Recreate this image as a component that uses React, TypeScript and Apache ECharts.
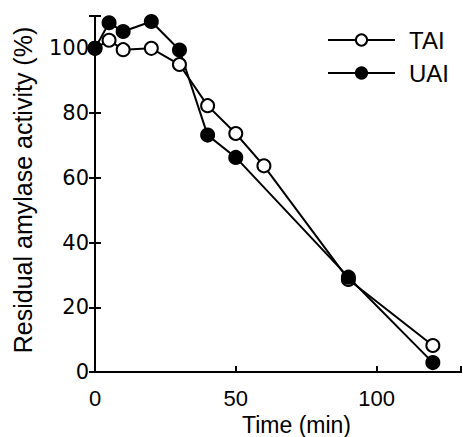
import React, { useEffect, useRef } from "react";
import * as echarts from "echarts";

const taiTime = [0, 5, 10, 20, 30, 40, 50, 60, 90, 120];
const taiValues = [100, 102.5, 99.6, 100, 95, 82.3, 73.7, 63.7, 28.6, 8.2];
const uaiTime = [0, 5, 10, 20, 30, 40, 50, 90, 120];
const uaiValues = [100, 107.9, 105.2, 108.3, 99.5, 73.2, 66.3, 29.3, 2.9];
const xTicks = [0, 50, 100];
const yTicks = [0, 20, 40, 60, 80, 100];

const FONT = "Liberation Sans, Arial, sans-serif";

export default function App() {
  const ref = useRef<HTMLDivElement>(null);
  useEffect(() => {
    if (!ref.current) return;
    const chart = echarts.init(ref.current, null, { renderer: "svg" });
    const axisLine = { show: true, lineStyle: { color: "#000", width: 2 } };
    chart.setOption({
      animation: false,
      backgroundColor: "#fff",
      grid: { left: 95, top: 16, right: 2, bottom: 65, containLabel: false, outerBoundsMode: "none" },
      legend: {
        orient: "vertical",
        left: 322,
        top: 23,
        itemWidth: 67,
        itemHeight: 14,
        itemGap: 9,
        textStyle: { fontFamily: FONT, fontSize: 24, color: "#000", lineHeight: 24, padding: [0, 0, 0, 9] },
        data: ["TAI", "UAI"],
      },
      xAxis: [
        {
          type: "value",
          min: 0,
          max: 130,
          interval: 50,
          position: "bottom",
          axisLine,
          axisTick: { show: true, inside: true, length: 6, lineStyle: { color: "#000", width: 2 } },
          splitLine: { show: false },
          axisLabel: {
            margin: 15,
            fontFamily: FONT,
            fontSize: 22,
            color: "#000",
            formatter: (v: number) => (xTicks.includes(v) ? String(v) : ""),
          },
          name: "Time (min)",
          nameLocation: "middle",
          nameGap: 37,
          nameTextStyle: { fontFamily: FONT, fontSize: 23, lineHeight: 23, color: "#000", padding: [0, 0, 0, 37] },
        },
        {
          type: "value",
          min: 0,
          max: 130,
          interval: 50,
          position: "top",
          axisLine,
          axisTick: { show: false },
          axisLabel: { show: false },
          splitLine: { show: false },
        },
      ],
      yAxis: [
        {
          type: "value",
          min: 0,
          max: 110,
          interval: 20,
          position: "left",
          axisLine,
          axisTick: { show: true, inside: true, length: 6, lineStyle: { color: "#000", width: 2 } },
          splitLine: { show: false },
          axisLabel: {
            margin: 6,
            fontFamily: "DejaVu Sans, sans-serif",
            fontSize: 21,
            color: "#000",
            verticalAlign: "middle",
            lineHeight: 21,
            padding: [12, 0, 0, 0],
            formatter: (v: number) => (yTicks.includes(v) ? String(v) : ""),
          },
          name: "Residual amylase activity (%)",
          nameLocation: "middle",
          nameGap: 60,
          nameTextStyle: { fontFamily: FONT, fontSize: 25, color: "#000", padding: [0, 0, 0, 8] },
        },
        {
          type: "value",
          min: 0,
          max: 110,
          interval: 20,
          position: "right",
          axisLine,
          axisTick: { show: true, inside: true, length: 6, lineStyle: { color: "#000", width: 2 } },
          axisLabel: { show: false },
          splitLine: { show: false },
        },
      ],
      series: [
        {
          name: "TAI",
          type: "line",
          data: taiTime.map((t, i) => [t, taiValues[i]]),
          symbol: "circle",
          symbolSize: 13,
          clip: false,
          lineStyle: { color: "#000", width: 2 },
          itemStyle: { color: "#fff", borderColor: "#000", borderWidth: 2 },
        },
        {
          name: "UAI",
          type: "line",
          data: uaiTime.map((t, i) => [t, uaiValues[i]]),
          symbol: "circle",
          symbolSize: 13,
          clip: false,
          lineStyle: { color: "#000", width: 2 },
          itemStyle: { color: "#000", borderColor: "#000", borderWidth: 2 },
        },
      ],
    });
    return () => chart.dispose();
  }, []);
  return <div ref={ref} style={{ width: 463, height: 437, position: "absolute", left: 0, top: 0 }} />;
}
